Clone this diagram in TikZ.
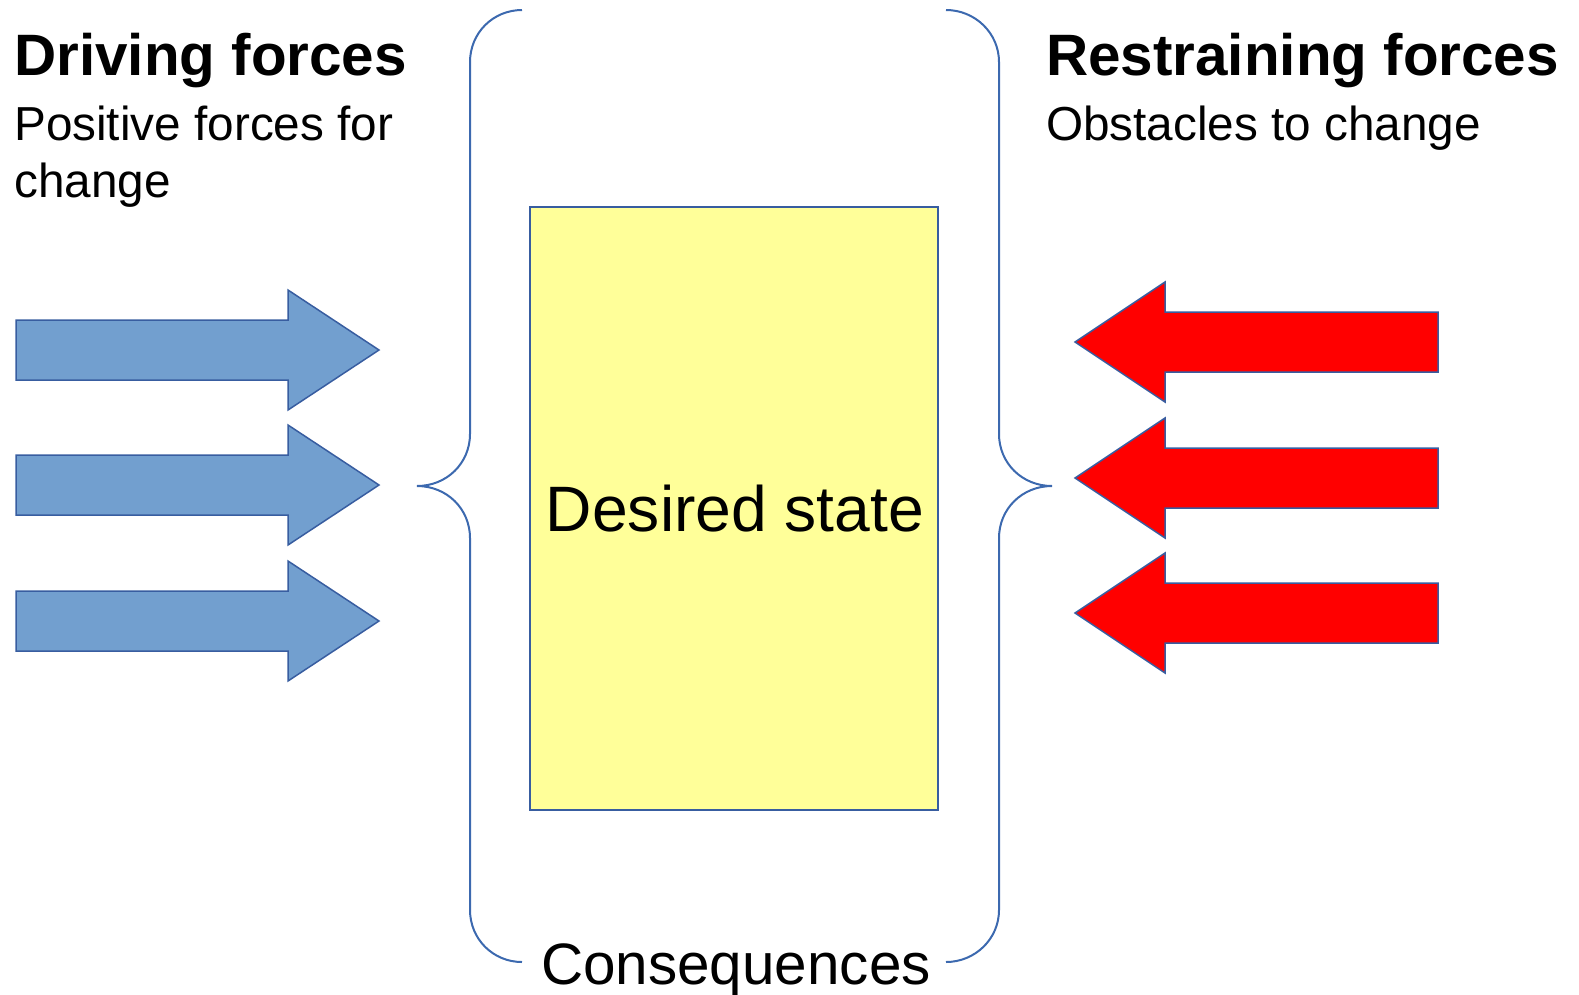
\documentclass[tikz,border=0pt]{standalone}
\usepackage{fontspec}
\setmainfont{Liberation Sans}
\usepackage{xcolor}
\usetikzlibrary{arrows}

\definecolor{pushblue}{RGB}{114,159,207}
\definecolor{edgeblue}{RGB}{56,93,160}
\definecolor{braceblue}{RGB}{60,105,175}
\definecolor{stateyellow}{RGB}{255,255,153}

\tikzset{
  pusharrow/.style={fill=pushblue, draw=edgeblue, line width=1.5pt, line join=miter},
  pullarrow/.style={fill=red, draw=edgeblue, line width=1.5pt, line join=miter},
  bracket/.style={draw=braceblue, line width=2pt},
  heading/.style={anchor=base west, inner sep=0pt, font=\fontsize{58.4}{60}\selectfont\bfseries},
  subhead/.style={anchor=base west, inner sep=0pt, align=left, font=\fontsize{47.7}{57}\selectfont}
}

\begin{document}
\begin{tikzpicture}[x=1pt,y=-1pt]
    \useasboundingbox (0,0) rectangle (1579,994);

    % left side
    \node[heading] (drive) at (14,75) {Driving forces};
    \node[subhead] (drivesub) at (14,197) {Positive forces for\\change};
    \foreach \y in {350,485,621}
    \draw[pusharrow,shift={(0,\y)}] (16,-30) -- (288,-30) -- (288,-60) -- (379,0)
        -- (288,60) -- (288,30) -- (16,30) -- cycle;

    % right side
    \node[heading] (restrain) at (1046,75) {Restraining forces};
    \node[subhead] (restrainsub) at (1046,140) {Obstacles to change};
    \foreach \y in {342,478,613}
    \draw[pullarrow,shift={(0,\y)}] (1438,-30) -- (1165,-30) -- (1165,-60) -- (1075,0)
        -- (1165,60) -- (1165,30) -- (1438,30) -- cycle;

    % braces
    \draw[bracket] (522,10) .. controls (493,10) and (470,33) .. (470,62) -- (470,434)
        .. controls (470,463) and (447,486) .. (417,486)
        .. controls (447,486) and (470,509) .. (470,538) -- (470,910)
        .. controls (470,939) and (493,962) .. (522,962);
    \draw[bracket] (946,10) .. controls (975,10) and (999,33) .. (999,62) -- (999,434)
        .. controls (999,463) and (1022,486) .. (1052,486)
        .. controls (1022,486) and (999,509) .. (999,538) -- (999,910)
        .. controls (999,939) and (975,962) .. (946,962);

    % centre
    \draw[fill=stateyellow, draw=edgeblue, line width=2pt] (530,207) rectangle (938,810);
    \node[anchor=base, inner sep=0pt, font=\fontsize{64.2}{66}\selectfont] (state) at (735,531) {Desired state};
    \node[anchor=base, inner sep=0pt, font=\fontsize{58.4}{60}\selectfont] (conseq) at (736,984) {Consequences};
\end{tikzpicture}
\end{document}
